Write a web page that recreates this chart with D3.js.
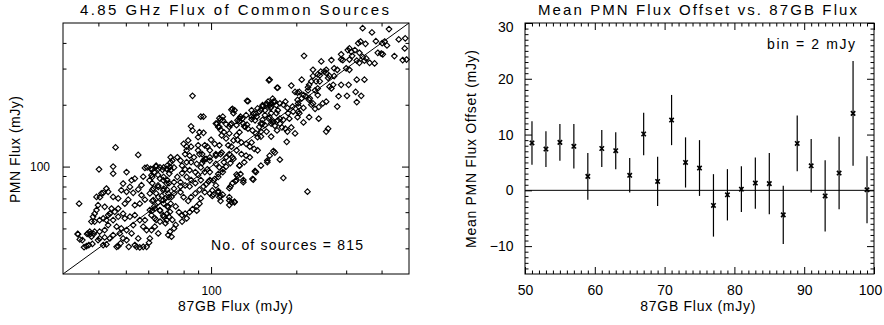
<!DOCTYPE html>
<html>
<head>
<meta charset="utf-8">
<script src="https://cdn.jsdelivr.net/npm/d3@7"></script>
<style>
  body { margin: 0; background: #fff; }
  text { font-family: "Liberation Sans", Arial, sans-serif; fill: #000; }
</style>
</head>
<body>
<svg id="chart" width="884" height="325"></svg>
<script>
// 87GB flux vs PMN flux (mJy)
var fluxPairs = [
  [343,472],[370,450],[425,467],[460,416],[485,421],[483,376],[490,332],[475,330],[410,406],[382,408],
  [402,399],[418,389],[337,406],[331,399],[351,396],[308,376],[304,369],[313,362],[322,369],[288,352],
  [315,346],[334,358],[343,342],[353,336],[348,328],[363,320],[378,318],[388,358],[399,355],[404,352],
  [444,345],[213,346],[245,325],[266,330],[288,333],[292,330],[308,332],[327,328],[334,320],[300,301],
  [308,296],[279,296],[272,301],[255,296],[251,290],[244,290],[229,296],[238,281],[242,278],[262,276],
  [259,270],[272,276],[288,250],[306,250],[327,265],[348,265],[324,231],[339,221],[302,221],[282,220],
  [327,206],[279,196],[255,207],[248,203],[240,195],[229,203],[226,200],[233,191],[209,265],[192,248],
  [171,242],[161,265],[198,231],[202,229],[205,231],[212,223],[216,220],[220,243],[222,211],[223,215],
  [233,235],[238,240],[238,223],[262,245],[266,240],[270,250],[255,286],[242,260],[235,260],[229,276],
  [226,260],[222,250],[220,235],[209,215],[202,211],[203,203],[204,196],[194,196],[195,185],[203,185],
  [205,182],[189,171],[180,169],[175,171],[163,182],[162,193],[157,200],[152,196],[150,189],[155,188],
  [163,203],[166,207],[175,203],[180,200],[183,207],[186,193],[170,182],[161,174],[152,169],[150,162],
  [155,159],[163,162],[166,166],[175,162],[183,153],[186,148],[192,155],[198,145],[212,164],[222,174],
  [240,171],[259,153],[255,148],[185,132],[166,119],[150,140],[150,148],[157,148],[163,140],[171,150],
  [178,155],[212,193],[202,174],[187,182],
  [135,208],[118,189],[120,182],[133,178],[139,175],[144,181],[129,171],[126,167],[123,159],[118,162],
  [113,161],[108,169],[110,175],[104,162],[106,156],[92,175],[85,157],[91,147],[94,146],[108,151],
  [111,147],[116,145],[123,142],[126,147],[131,157],[135,153],[140,150],[144,145],[146,139],[109,142],
  [113,137],[120,134],[124,135],[128,131],[133,129],[139,131],[137,125],[142,122],[146,120],[100,135],
  [103,129],[107,127],[115,127],[118,125],[123,120],[128,115],[133,113],[137,111],[131,105],[126,101],
  [127,92],[123,86],[130,86],[143,95],[140,87],[111,105],[116,115],[120,109],[113,111],[108,115],
  [104,113],[99,120],[97,125],[95,127],[90,127],[85,125],[82,120],[81,115],[84,113],[87,111],
  [90,120],[93,115],[96,109],[99,107],[104,103],[107,99],[110,97],[106,92],[103,87],[99,86],
  [104,81],[106,76],[99,74],[101,72],[108,72],[108,68],[116,71],[118,67],[121,67],[116,65],
  [92,70],[91,66],[89,64],[86,62],[89,61],[84,60],[81,59],[79,58],[77,60],[82,56],
  [79,54],[75,52],[74,50],[73,55],[71,57],[70,59],[68,57],[69,53],[64,55],[66,61],
  [63,64],[62,61],[62,68],[65,67],[68,66],[70,64],[72,66],[75,64],[71,71],[74,74],
  [78,75],[80,71],[83,68],[85,71],[88,74],[91,77],[94,80],[95,75],[96,82],[92,86],
  [90,91],[88,94],[84,96],[81,97],[79,101],[78,107],[76,111],[73,107],[72,111],[74,99],
  [72,96],[70,101],[70,97],[68,99],[66,99],[64,101],[62,97],[63,94],[62,89],[65,91],
  [68,89],[70,86],[71,83],[74,84],[76,89],[79,93],[82,89],[85,86],[88,83],[84,80],
  [81,81],[78,80],[74,78],[70,77],[68,78],[65,81],[62,83],[62,77],[64,74],[67,72],
  [69,70],[80,129],[82,125],[83,134],[90,139],[89,103],[92,99],[95,94],[97,97],[99,94],
  [94,107],[91,115],[85,105],[82,105],[78,84],
  [55.3,114],[40.2,97],[45.1,100],[45.1,92.5],[50.3,94],[48.9,82.7],[53.8,87.4],[52.4,85.8],[58.4,98.5],[59.5,99],
  [61.2,97.5],[63.9,100],[65.1,97.5],[67.4,96.5],[69.7,97.5],[72,105],[71.6,99.5],[61.6,90.8],[57.6,89.3],[60.6,85.8],
  [56.8,81.2],[55.3,77.4],[53.1,74.5],[56.8,72.6],[58.4,69],[56,66],[53.8,64.9],[51,69],[49.6,66],[47,70],
  [45.1,71.2],[42.7,78.2],[43.3,75.4],[41.6,74.5],[41,74],[39.4,71.2],[34.2,66],[39.9,64.9],[42.1,63.7],[39.4,61.4],
  [38.8,59],[38.3,57],[37.8,54],[38.8,54],[40.4,54.9],[41.6,55.9],[42.7,54.9],[43.3,51.9],[42.1,49.1],[40.4,48.2],
  [38.8,48.2],[37.3,48.2],[36.8,47.3],[37.8,45.6],[33.9,46.9],[35.1,43.9],[36.3,41],[38.1,42],[39.9,43.9],[40.4,44.7],
  [42.1,45.2],[42.7,41.8],[41.6,41.5],[46.4,40.7],[47,41],[47.9,42.3],[51.2,40.7],[53.8,41.5],[54.6,40.7],[56,40.4],
  [57.6,40.7],[59.2,40.7],[60.4,42.6],[60.8,44.7],[55.3,44.7],[52.4,47.3],[53.1,51.9],[50.3,49.1],[48.2,50],[47.6,47.3],
  [46.4,51],[45.1,54.9],[47,57],[45.7,60.2],[48.9,59],[49.6,56],[51.7,57],[53.8,58],[56,54.9],[58.4,54.9],
  [57.6,51],[59.2,49.1],[61.6,49.1],[63.3,51],[65.1,47.3],[66,54],[63.3,56],[61.6,58],[60.8,61.4],[63.3,62.5],
  [66,61.4],[67.8,58],[69.7,54.9],[71.6,60.2],[70.6,63.7],[67.8,68.6],[65.1,71.2],[62.5,68.6],[60.8,74],[62.5,78.2],
  [65.1,79.6],[67.8,76.8],[70.6,74],[72.5,71.2],[67.8,85.8],[69.7,82.7],[66,87.4],[71.2,92.5],[72.5,45.6],[70.6,46.4],
  [71.6,48.2],[48.2,76.8],[50.3,75.4],[51.7,79.6],[47,62.5],[44.5,62.5],[43.9,59],[43.3,58],[45.1,46.4],[43.9,44.7],
  [48.9,44.7],[50.3,43.9],[46,124],[33.8,47],[34.4,44.2],[35.6,40.5],[37,41.5],[36.5,47],[37.5,47],[38.5,47],[40.5,71],
  [160,263],[172,242],[86,221],[134,209],[94,175],[86,150],[119,191],[121,188],[107,172],[110,168],
  [105,162],[107,156],[124,168],[126,172],[127,175],[130,162],[134,160],[132,156],[116,156],[117,160],
  [139,188],[141,181],[145,175],[143,168],[139,170],[146,192],[148,185],[152,199],[157,203],[159,207],
  [161,199],[163,195],[165,214],[168,207],[170,199],[172,188],[155,178],[160,171],[165,164],[168,158],
  [172,168],[152,162],[148,156],
  [126,101],[123,91.5],[124,90],[122,85],[130,84],[141,86.5],[143,95],[150,101],[158,107],[161,113],
  [168,117],[175,108],[180,88],[219,75.5],[119,83],[117,80],[116,78.5],[121,67.5],[116,68.4],[110,73],
  [107,71],[106,75],[102,73],[101,76.5],[98,84.5],[102,85.6],[106,89],[110,94],[113,100],[117,104],
  [119,111],[109,117],[104,115],[99,111],[95,109],[93,104],[144,94],[158,105]
];

// mean PMN flux offset per 2 mJy bin of 87GB flux
var binCentres = [51,53,55,57,59,61,63,65,67,69,71,73,75,77,79,81,83,85,87,89,91,93,95,97,99];
var meanOffset = [8.5,7.4,8.6,7.9,2.5,7.5,7.1,2.7,10.1,1.6,12.6,5.0,4.0,-2.7,-0.8,0.2,1.3,1.2,-4.4,8.4,4.4,-1.0,3.1,13.8,0.1];
var offsetErr  = [3.9,3.2,3.3,4.0,4.2,3.3,3.3,3.1,3.8,4.4,4.5,4.5,5.0,5.6,4.6,4.1,4.6,5.5,5.2,5.0,4.8,6.4,6.5,9.4,6.0];

var leftMajor = [100];
var leftMinor = [40,50,60,70,80,90,200,300,400];
var rightXMajor = [50,60,70,80,90,100];
var rightYMajor = [-10,0,10,20,30];

var svg = d3.select("#chart");

// scales
var xL = d3.scaleLog().domain([30, 500]).range([63, 409]);
var yL = d3.scaleLog().domain([30, 500]).range([274, 23]);
var xR = d3.scaleLinear().domain([50, 100]).range([525, 874]);
var yR = d3.scaleLinear().domain([-15, 30]).range([274, 23]);

function drawTicks(g, axisGen, values, size, fmt, pad, fontSize) {
  g.call(axisGen.tickValues(values).tickSize(-size).tickSizeOuter(0)
      .tickPadding(pad).tickFormat(fmt));
  g.select(".domain").remove();
  g.selectAll("line").attr("stroke", "#000");
  g.attr("font-size", fontSize || 14).attr("font-family", null);
  g.selectAll("text").attr("fill", "#000");
}
var blank = function() { return ""; };

// ---------- left panel ----------
var L = svg.append("g");

L.append("line")
  .attr("x1", xL(30)).attr("y1", yL(30))
  .attr("x2", xL(500)).attr("y2", yL(500))
  .attr("stroke", "#000").attr("stroke-width", 1);

L.selectAll(".pt")
  .data(fluxPairs)
  .enter().append("path")
  .attr("class", "pt")
  .attr("d", "M0,-2.8L2.8,0L0,2.8L-2.8,0Z")
  .attr("transform", function(d) { return "translate(" + xL(d[0]) + "," + yL(d[1]) + ")"; })
  .attr("fill", "none").attr("stroke", "#000").attr("stroke-width", 1.15);

L.append("rect")
  .attr("x", 63).attr("y", 23).attr("width", 346).attr("height", 251)
  .attr("fill", "none").attr("stroke", "#000").attr("stroke-width", 1);

drawTicks(L.append("g").attr("transform", "translate(0,274)"), d3.axisBottom(xL), leftMajor, 7, d3.format("d"), 12.5, 12);
drawTicks(L.append("g").attr("transform", "translate(0,274)"), d3.axisBottom(xL), leftMinor, 3.5, blank, 0);
drawTicks(L.append("g").attr("transform", "translate(0,23)"), d3.axisTop(xL), leftMajor, 7, blank, 0);
drawTicks(L.append("g").attr("transform", "translate(0,23)"), d3.axisTop(xL), leftMinor, 3.5, blank, 0);
drawTicks(L.append("g").attr("transform", "translate(63,0)"), d3.axisLeft(yL), leftMajor, 7, d3.format("d"), 13, 12);
drawTicks(L.append("g").attr("transform", "translate(63,0)"), d3.axisLeft(yL), leftMinor, 3.5, blank, 0);
drawTicks(L.append("g").attr("transform", "translate(409,0)"), d3.axisRight(yL), leftMajor, 7, blank, 0);
drawTicks(L.append("g").attr("transform", "translate(409,0)"), d3.axisRight(yL), leftMinor, 3.5, blank, 0);

L.append("text").attr("x", 234.5).attr("y", 15).attr("text-anchor", "middle")
  .attr("font-size", 15).attr("textLength", 309).attr("lengthAdjust", "spacing")
  .text("4.85 GHz Flux of Common Sources");
L.append("text").attr("x", 235.5).attr("y", 311).attr("text-anchor", "middle")
  .attr("font-size", 14).attr("textLength", 115).attr("lengthAdjust", "spacing")
  .text("87GB Flux (mJy)");
L.append("text").attr("transform", "translate(20,149.5) rotate(-90)").attr("text-anchor", "middle")
  .attr("font-size", 14).attr("textLength", 107).attr("lengthAdjust", "spacing")
  .text("PMN Flux (mJy)");
L.append("text").attr("x", 211).attr("y", 250)
  .attr("font-size", 14).attr("textLength", 152).attr("lengthAdjust", "spacing")
  .text("No. of sources = " + 815);

// ---------- right panel ----------
var R = svg.append("g");

R.append("line")
  .attr("x1", xR(50)).attr("x2", xR(100))
  .attr("y1", yR(0)).attr("y2", yR(0))
  .attr("stroke", "#000").attr("stroke-width", 1);

R.selectAll(".err")
  .data(binCentres)
  .enter().append("line")
  .attr("class", "err")
  .attr("x1", function(d) { return xR(d); })
  .attr("x2", function(d) { return xR(d); })
  .attr("y1", function(d, i) { return yR(meanOffset[i] - offsetErr[i]); })
  .attr("y2", function(d, i) { return yR(meanOffset[i] + offsetErr[i]); })
  .attr("stroke", "#000").attr("stroke-width", 1.2);

R.selectAll(".mk")
  .data(binCentres)
  .enter().append("path")
  .attr("class", "mk")
  .attr("d", "M-2.2,-2.2L2.2,2.2M-2.2,2.2L2.2,-2.2")
  .attr("transform", function(d, i) { return "translate(" + xR(d) + "," + yR(meanOffset[i]) + ")"; })
  .attr("stroke", "#000").attr("stroke-width", 1.6);

R.append("rect")
  .attr("x", 525).attr("y", 23).attr("width", 349).attr("height", 251)
  .attr("fill", "none").attr("stroke", "#000").attr("stroke-width", 1);

var xMinor = d3.range(51, 100).filter(function(v) { return v % 10 !== 0; });
var yMinor = d3.range(-14, 30).filter(function(v) { return v % 10 !== 0; });

var rx = R.append("g").attr("transform", "translate(0,274)");
drawTicks(rx, d3.axisBottom(xR), rightXMajor, 7, d3.format("d"), 11, 14);
rx.selectAll(".tick text").filter(function(d) { return d === 100; }).attr("dx", -4);
drawTicks(R.append("g").attr("transform", "translate(0,274)"), d3.axisBottom(xR), xMinor, 3.5, blank, 0);
drawTicks(R.append("g").attr("transform", "translate(0,23)"), d3.axisTop(xR), rightXMajor, 7, blank, 0);
drawTicks(R.append("g").attr("transform", "translate(0,23)"), d3.axisTop(xR), xMinor, 3.5, blank, 0);
var ry = R.append("g").attr("transform", "translate(525,0)");
drawTicks(ry, d3.axisLeft(yR), rightYMajor, 7, d3.format("d"), 11.5, 14);
ry.selectAll(".tick text").filter(function(d) { return d === 30; }).attr("dy", "0.62em");
drawTicks(R.append("g").attr("transform", "translate(525,0)"), d3.axisLeft(yR), yMinor, 3.5, blank, 0);
drawTicks(R.append("g").attr("transform", "translate(874,0)"), d3.axisRight(yR), rightYMajor, 7, blank, 0);
drawTicks(R.append("g").attr("transform", "translate(874,0)"), d3.axisRight(yR), yMinor, 3.5, blank, 0);

R.append("text").attr("x", 697.5).attr("y", 15).attr("text-anchor", "middle")
  .attr("font-size", 15).attr("textLength", 319).attr("lengthAdjust", "spacing")
  .text("Mean PMN Flux Offset vs. 87GB Flux");
R.append("text").attr("x", 697.8).attr("y", 311).attr("text-anchor", "middle")
  .attr("font-size", 14).attr("textLength", 115).attr("lengthAdjust", "spacing")
  .text("87GB Flux (mJy)");
R.append("text").attr("transform", "translate(475.5,149) rotate(-90)").attr("text-anchor", "middle")
  .attr("font-size", 14).attr("textLength", 198).attr("lengthAdjust", "spacing")
  .text("Mean PMN Flux Offset (mJy)");
R.append("text").attr("x", 767).attr("y", 49)
  .attr("font-size", 14).attr("textLength", 88).attr("lengthAdjust", "spacing")
  .text("bin = 2 mJy");
</script>
</body>
</html>
